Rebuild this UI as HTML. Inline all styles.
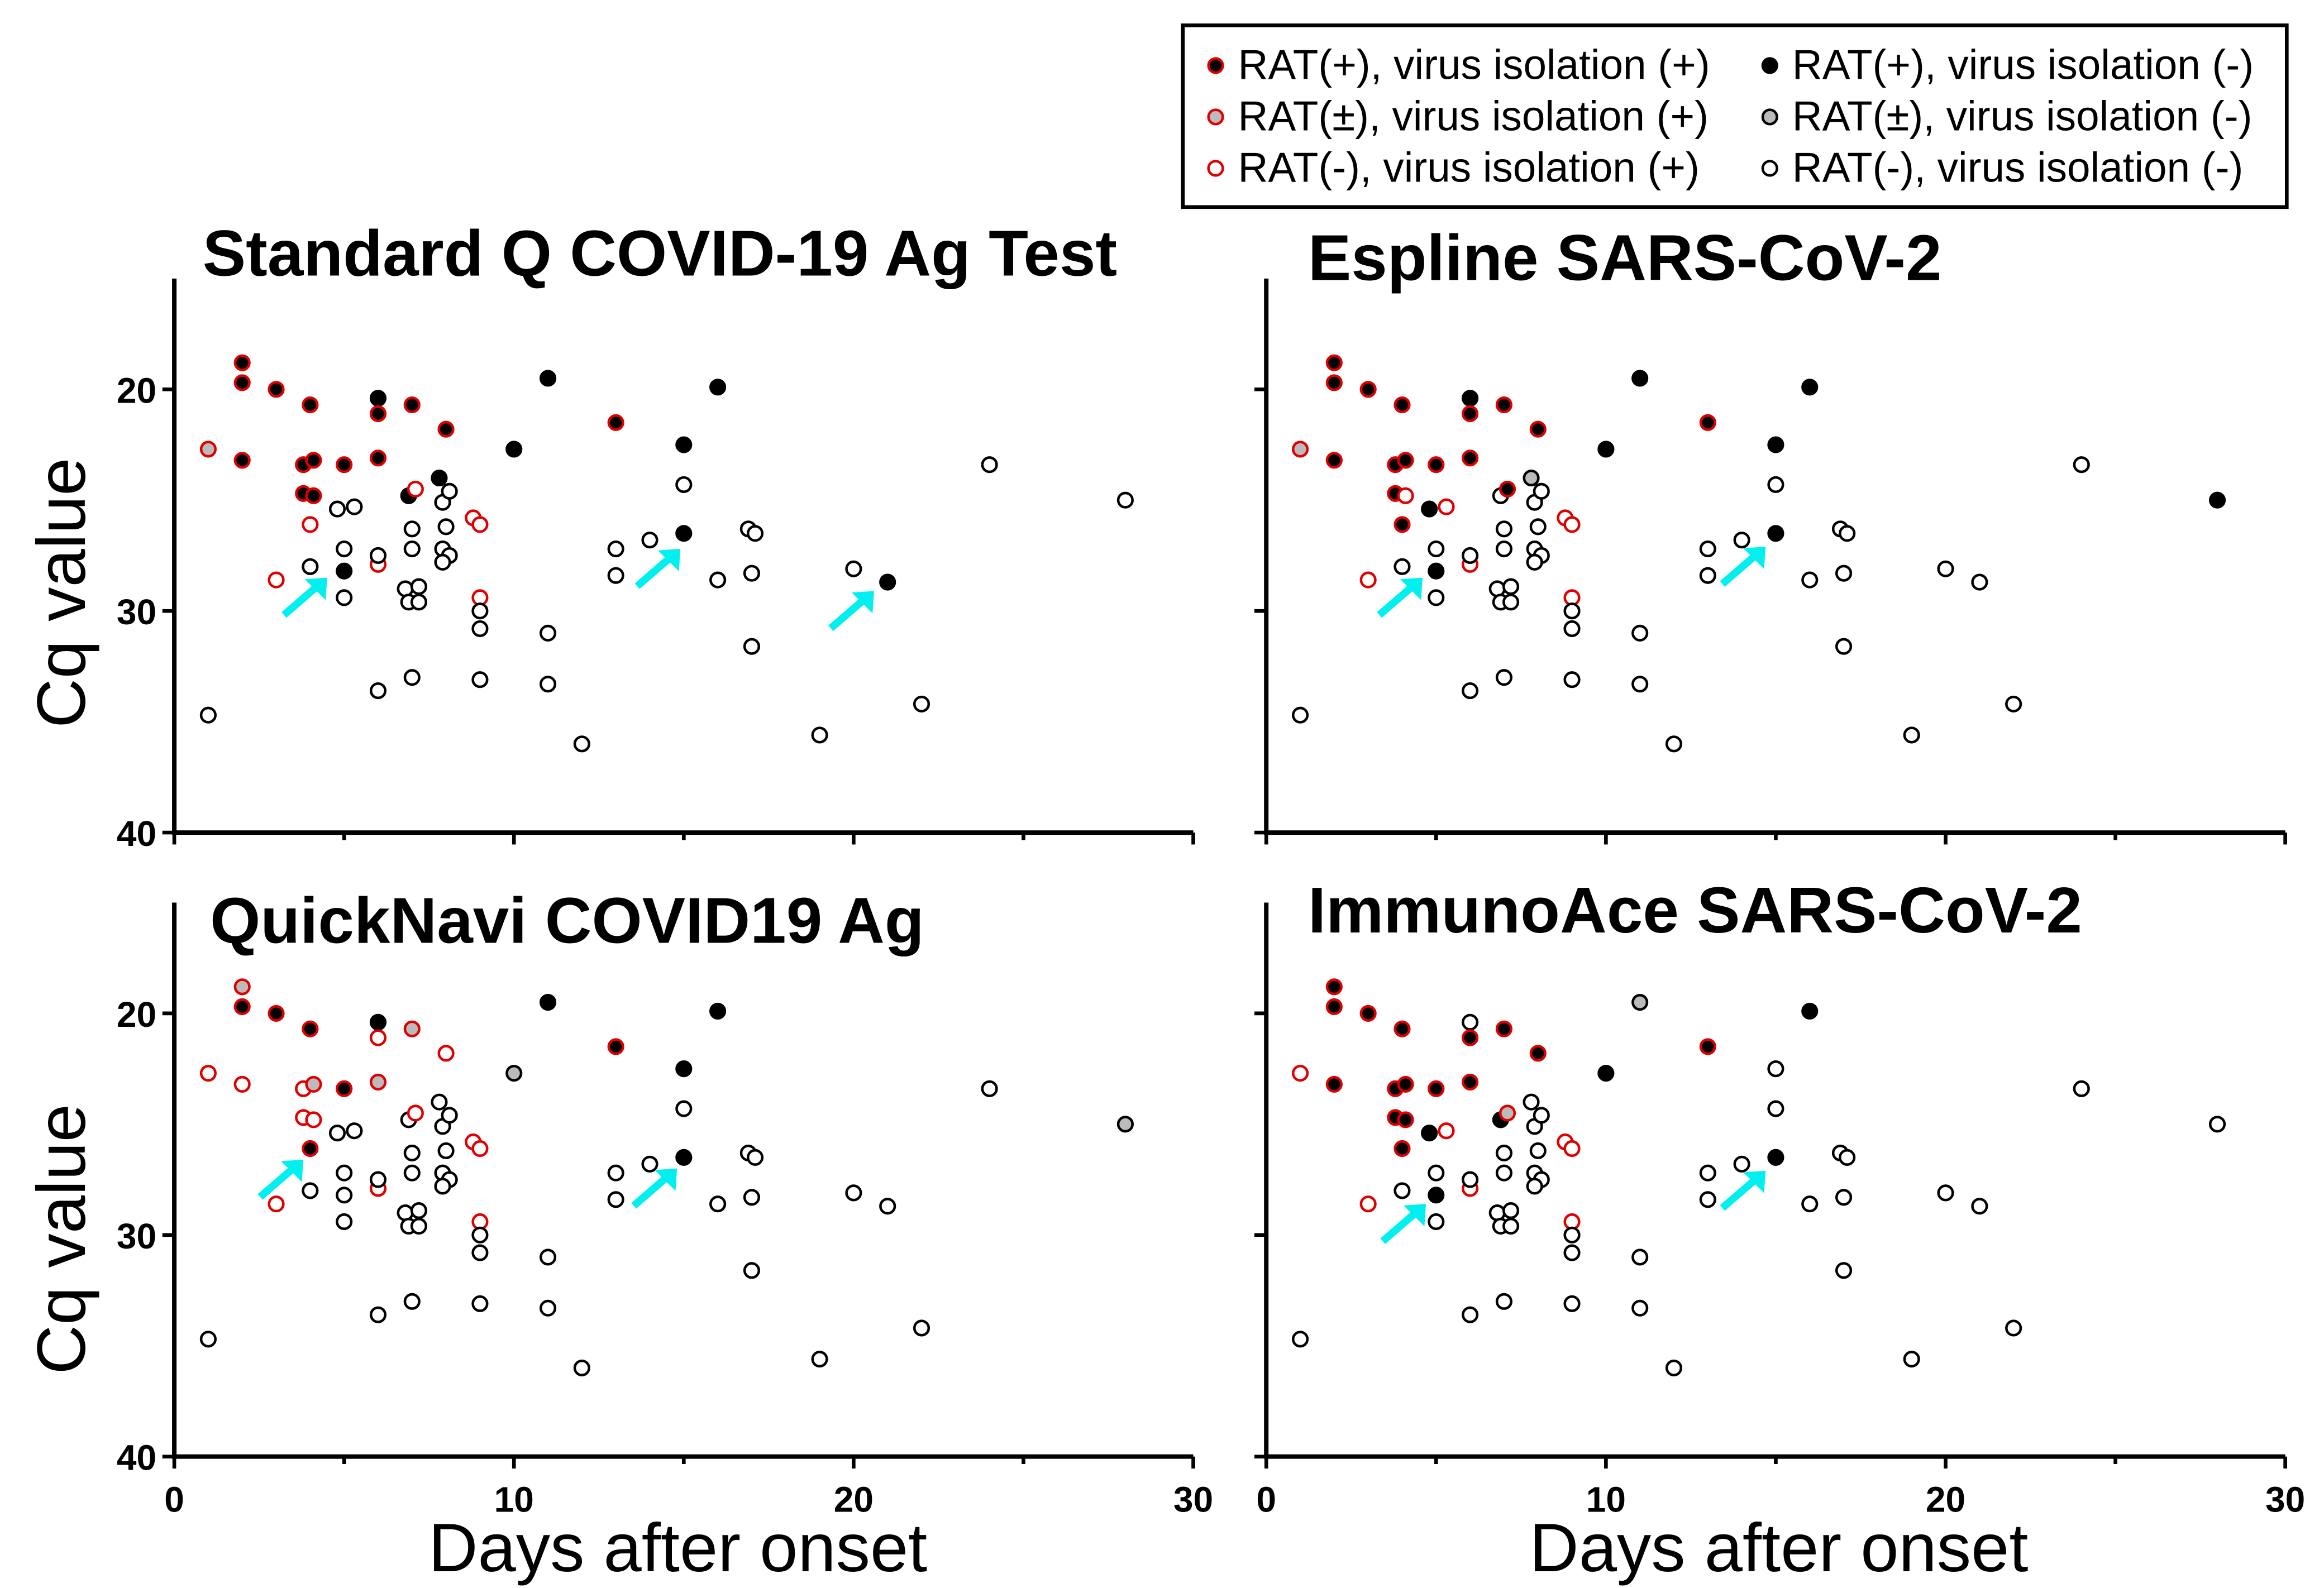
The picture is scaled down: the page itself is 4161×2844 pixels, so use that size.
<!DOCTYPE html>
<html><head><meta charset="utf-8"><style>
html,body{margin:0;padding:0;background:#fff}
svg{display:block}
text{font-family:"Liberation Sans",Arial,sans-serif}
</style></head><body>
<svg id="chart" width="4161" height="2844" viewBox="0 0 1560 1066.2" xmlns="http://www.w3.org/2000/svg">
<rect width="1560" height="1066.2" fill="#fff"/>
<g id="legend">
<rect x="794" y="17" width="741" height="122" fill="#fff" stroke="#000" stroke-width="2.5"/>
</g>
<g id="panels"></g>
<text transform="translate(57,398) rotate(-90)" text-anchor="middle" font-size="46">Cq value</text>
<text transform="translate(57,832) rotate(-90)" text-anchor="middle" font-size="46">Cq value</text>
<text x="455" y="1055" text-anchor="middle" font-size="46">Days after onset</text>
<text x="1194" y="1055" text-anchor="middle" font-size="46">Days after onset</text>
</svg>
<script>
const days = [2,2,2,3,4,3.8,4.1,3.8,4.1,4,5,6,6,6,7,8,10,11,13,16,15,15,21,5,6.9,7.8,1,3,7.1,6,8.8,9,9,4.8,5.3,28,
 5,5,4,6,6,7,7,6.8,7.2,6.9,7.2,7,7.9,8.1,8,7.9,8.1,7.9,9,9,9,11,11,12,13,13,14,15,16,16.9,17.1,17,17,20,19,22,24,1];
const cq = [18.8,19.7,23.2,20.0,20.7,23.4,23.2,24.7,24.8,26.1,23.4,20.4,21.1,23.1,20.7,21.8,22.7,19.5,21.5,19.9,22.5,26.5,28.7,28.2,24.8,24.0,22.7,28.6,24.5,27.9,25.8,26.1,29.4,25.4,25.3,25.0,
 27.2,29.4,28.0,27.5,33.6,26.3,27.2,29.0,28.9,29.6,29.6,33.0,25.1,24.6,26.2,27.2,27.5,27.8,30.0,30.8,33.1,31.0,33.3,36.0,27.2,28.4,26.8,24.3,28.6,26.3,26.5,28.3,31.6,28.1,35.6,34.2,23.4,34.7];
const typesP1 = "RRRRRRRRRORBRRRRBBRBBBBBBBGOOOOOOooo";
const typesP2 = "RRRRRRRRORRBRRRRBBRBBBoBogGOROOOOBOB";
const typesP3 = "GRORROGOORRBOGGOgBRBBBooooOOOOOOOoog";
const typesP4 = "RRRRRRRRRRRoRRRRBgRBoBoBBoOOGOOOOBOo";
const panelTitles = ["Standard Q COVID-19 Ag Test","Espline SARS-CoV-2","QuickNavi COVID19 Ag","ImmunoAce SARS-CoV-2"];
const xTicks = [0,10,20,30];
const yTicks = [20,30,40];
const arrowsP1 = [[4.5,28.5],[14.9,27.2],[20.6,29.1]];
const arrowsP2 = [[4.6,28.5],[14.7,27.1]];
const arrowsP3 = [[3.8,26.6],[14.8,27.0]];
const arrowsP4 = [[4.7,28.6],[14.7,27.1]];
const legendLabels = ["RAT(+), virus isolation (+)","RAT(±), virus isolation (+)","RAT(-), virus isolation (+)","RAT(+), virus isolation (-)","RAT(±), virus isolation (-)","RAT(-), virus isolation (-)"];
const legendCodes = ["R","G","O","B","g","o"];

const NS="http://www.w3.org/2000/svg";
function mk(tag,attrs,parent){const e=document.createElementNS(NS,tag);for(const k in attrs)e.setAttribute(k,attrs[k]);parent.appendChild(e);return e;}
const style={R:["#000","#e00000"],G:["#bbb","#e00000"],O:["#fff","#e00000"],B:["#000","#000"],g:["#bbb","#000"],o:["#fff","#000"]};
const panelsG=document.getElementById('panels');
const panels=[
 {x0:117,x1:801,yTop:187,y40:559,types:typesP1,arrows:arrowsP1,tx:136,ty:185,labels:false},
 {x0:850,x1:1534,yTop:187,y40:559,types:typesP2,arrows:arrowsP2,tx:878,ty:188,labels:false},
 {x0:117,x1:801,yTop:606,y40:978,types:typesP3,arrows:arrowsP3,tx:141,ty:633,labels:true},
 {x0:850,x1:1534,yTop:606,y40:978,types:typesP4,arrows:arrowsP4,tx:878,ty:626,labels:true}];
panels.forEach((p,pi)=>{
 const g=mk('g',{},panelsG);
 
 
 const xs=d=>p.x0+(p.x1-p.x0)*d/30;
 const ys=c=>p.y40-(p.y40-p.yTop)*(40-c)/25;
 const t=mk('text',{x:p.tx,y:p.ty,'font-size':43.5,'font-weight':'bold'},g);t.textContent=panelTitles[pi];
 
 
 const ax=mk('path',{d:`M${p.x0},${p.yTop}V${p.y40}H${p.x1}`,fill:'none',stroke:'#000','stroke-width':3},g);
 
 
 for(let d=0;d<=30;d+=5){mk('line',{x1:xs(d),x2:xs(d),y1:p.y40,y2:p.y40+(d%10?5:8),stroke:'#000','stroke-width':2.5},g);}
 if(p.labels) xTicks.forEach(d=>{const l=mk('text',{x:xs(d),y:p.y40+37,'font-size':24,'font-weight':'bold','text-anchor':'middle'},g);l.textContent=d;
  
  });
 yTicks.forEach(c=>{mk('line',{x1:p.x0-8,x2:p.x0,y1:ys(c),y2:ys(c),stroke:'#000','stroke-width':2.5},g);
  if(pi%2===0){const l=mk('text',{x:p.x0-12,y:ys(c)+9,'font-size':24,'font-weight':'bold','text-anchor':'end'},g);l.textContent=c;
  
  }});
 days.forEach((d,i)=>{const code=p.types[i]||'o';const s=style[code];
  const c=mk('circle',{cx:xs(d),cy:ys(cq[i]),r:4.8,fill:s[0],stroke:s[1],'stroke-width':1.7},g);
  
  });
 p.arrows.forEach(a=>{const hx=xs(a[0]),hy=ys(a[1]);const tx=hx-29,ty=hy+25;
  const ar=mk('g',{},g);
  
  
  mk('line',{x1:tx,y1:ty,x2:hx-7,y2:hy+6,stroke:'#00f0f0','stroke-width':5},ar);
  mk('polygon',{points:`${hx},${hy} ${hx-15},${hy+1} ${hx-1},${hy+15}`,fill:'#00f0f0'},ar);});
});
const lg=document.getElementById('legend');
legendLabels.forEach((lab,i)=>{const col=i<3?0:1,row=i%3;const x=col?1188:816,y=44+row*34.5;const s=style[legendCodes[i]];
 const e=mk('g',{},lg);
 
 
 mk('circle',{cx:x,cy:y,r:4.8,fill:s[0],stroke:s[1],'stroke-width':1.7},e);
 const t=mk('text',{x:x+15,y:y+9,'font-size':28},e);t.textContent=lab;});
</script>
</body></html>
